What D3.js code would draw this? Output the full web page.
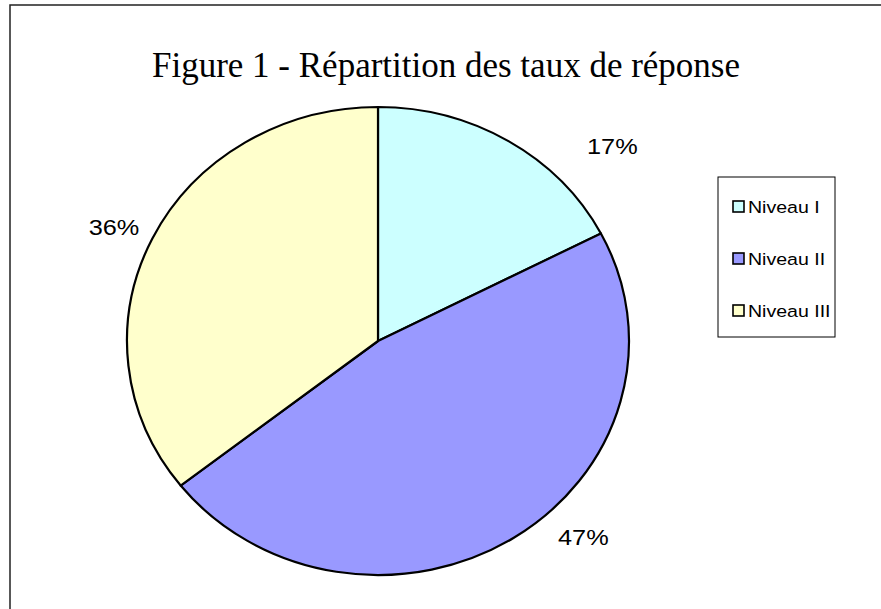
<!DOCTYPE html>
<html><head><meta charset="utf-8">
<script src="https://cdn.jsdelivr.net/npm/d3@7"></script>
<style>body{margin:0;background:#fff}svg{display:block}</style>
</head><body>
<script>
const categories = ["Niveau I", "Niveau II", "Niveau III"];
const values = [17.4, 47.0, 35.6];
const colors = ["#CCFFFF", "#9999FF", "#FFFFCC"];
const titleText = "Figure 1 - Répartition des taux de réponse";

const W = 881, H = 609;
const stretch = 1.15; // horizontal stretch of sans-serif text, as in the reference
const svg = d3.select("body").append("svg").attr("width", W).attr("height", H);

// outer frame
svg.append("rect").attr("x", 10).attr("y", 5).attr("width", W + 40).attr("height", H + 40)
  .attr("fill", "#fff").attr("stroke", "#222").attr("stroke-width", 1.5);

svg.append("text").attr("x", 446).attr("y", 77).attr("text-anchor", "middle")
  .attr("font-family", "Liberation Serif, Times New Roman, serif").attr("font-size", 35)
  .attr("fill", "#000").text(titleText);

const cx = 378, cy = 341, rx = 251, ry = 234;
const data = categories.map((c, i) => ({c, v: values[i], col: colors[i]}));
const pie = d3.pie().value(d => d.v).sort(null);
const arcs = pie(data);
const arc = d3.arc().innerRadius(0).outerRadius(rx);

const g = svg.append("g").attr("transform", `translate(${cx},${cy}) scale(1,${ry/rx})`);
g.selectAll("path").data(arcs).join("path")
  .attr("d", arc).attr("fill", d => d.data.col)
  .attr("stroke", "#000").attr("stroke-width", 2.2)
  .attr("vector-effect", "non-scaling-stroke").attr("stroke-linejoin", "round");

// percentage labels outside (angle offset in degrees and radial factor per label)
const labelShift = [17, -11.6, -1];
const labelR = [1.25, 1.17, 1.16];
const total = d3.sum(values);
const pos = (d, i) => {
  const a = (d.startAngle + d.endAngle) / 2 + labelShift[i] * Math.PI / 180;
  return [cx + Math.sin(a) * rx * labelR[i], cy - Math.cos(a) * ry * labelR[i]];
};
svg.selectAll("text.pct").data(arcs).join("text").attr("class", "pct")
  .attr("transform", (d, i) => `translate(${pos(d, i)[0]},${pos(d, i)[1] + 8}) scale(${stretch},1)`)
  .attr("text-anchor", "middle")
  .attr("font-family", "Liberation Sans, Arial, sans-serif").attr("font-size", 22)
  .attr("fill", "#000")
  .text(d => Math.round(d.data.v / total * 100) + "%");

// legend
const lg = svg.append("g");
lg.append("rect").attr("x", 718).attr("y", 177).attr("width", 117).attr("height", 160)
  .attr("fill", "#fff").attr("stroke", "#000").attr("stroke-width", 1);
const ly = d3.scalePoint().domain(categories).range([207, 311]);
const items = lg.selectAll("g.it").data(data).join("g").attr("class", "it")
  .attr("transform", d => `translate(733,${ly(d.c)})`);
items.append("rect").attr("x", 0).attr("y", -6).attr("width", 11).attr("height", 11)
  .attr("fill", d => d.col).attr("stroke", "#000").attr("stroke-width", 1.6);
items.append("text").attr("transform", `translate(15,6) scale(${stretch},1)`)
  .attr("font-family", "Liberation Sans, Arial, sans-serif").attr("font-size", 17)
  .attr("fill", "#000").text(d => d.c);
</script>
</body></html>
